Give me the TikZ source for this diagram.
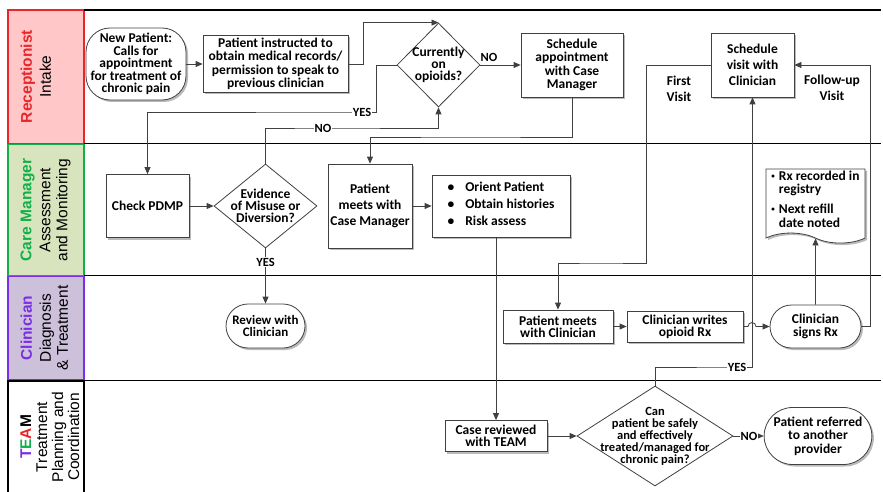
\documentclass[tikz,border=0pt]{standalone}
\usepackage{fontspec}
\setmainfont{Carlito}
\newfontfamily\lanefont{Liberation Sans}
\usetikzlibrary{arrows.meta,shapes.geometric,shapes.misc,shapes.symbols,shadows}

\definecolor{recred}{HTML}{E8262B}
\definecolor{recfill}{HTML}{FFC7C7}
\definecolor{cmgreen}{HTML}{12B04A}
\definecolor{cmfill}{HTML}{D7E4BD}
\definecolor{clinpurple}{HTML}{7A2EE6}
\definecolor{clinfill}{HTML}{CCC0DA}
\definecolor{linegray}{HTML}{404040}

\newcommand{\boxfont}{\fontsize{13.5}{13.5}\selectfont\bfseries}
\newcommand{\decfont}{\fontsize{13.5}{12}\selectfont\bfseries}
\newcommand{\lblfont}{\fontsize{12.5}{12.5}\selectfont\bfseries}
\newcommand{\bul}{\raisebox{2pt}{\scriptsize\textbullet}}

\tikzset{
  boxshadow/.style={drop shadow={shadow xshift=2pt,shadow yshift=-2pt,fill=black!45,opacity=0.6}},
  process/.style={draw=linegray,line width=0.8pt,fill=white,boxshadow,font=\boxfont,align=center,inner sep=2pt},
  terminal/.style={process,rounded rectangle},
  decision/.style={diamond,draw=linegray,line width=0.8pt,fill=white,font=\decfont,align=center,inner sep=-8pt},
  flow/.style={draw=linegray,line width=0.8pt,-{Triangle[length=7pt,width=6pt]}},
  lbl/.style={fill=white,inner sep=1pt,font=\lblfont},
  lane/.style={line width=1.5pt},
  lanetitle/.style={rotate=90,anchor=north,align=center,font=\lanefont\fontsize{15.5}{17}\selectfont},
}

\begin{document}
\begin{tikzpicture}[x=1pt,y=-1pt]
  \useasboundingbox (0,0) rectangle (883,492);

  % swim lanes
  \draw[draw=recred,fill=recfill,line width=1.2pt] (8,10) rectangle (84,143.5);
  \draw[draw=cmgreen,fill=cmfill,line width=1.2pt] (8,144.5) rectangle (84,275.5);
  \draw[draw=clinpurple,fill=clinfill,line width=1.2pt] (8,276.5) rectangle (84,380);
  \draw[line width=1.2pt] (8,381) rectangle (84,496);
  \foreach \y in {10,143.5,275.5,380.5}
    \draw[lane] (84,\y) -- (881,\y);

  \node[lanetitle] (trec) at (17,76.5) {{\bfseries\color{recred}Receptionist}\\[2pt]Intake};
  \node[lanetitle] (tcm) at (17,210) {{\bfseries\color{cmgreen}Care Manager}\\[2pt]Assessment\\and Monitoring};
  \node[lanetitle] (tclin) at (17,328) {{\bfseries\color{clinpurple}Clinician}\\[2pt]Diagnosis\\\& Treatment};
  \node[lanetitle,font=\lanefont\fontsize{15.5}{16}\selectfont] (tteam) at (17,437)
    {{\bfseries\color{clinpurple}T\color{cmgreen}E\color{recred}A\color{black}M}\\Treatment\\Planning and\\Coordination};

  % intake
  \node[process,rounded corners=24pt,minimum width=100pt,minimum height=72pt,
        font=\fontsize{13.5}{12.5}\selectfont\bfseries] (newpt) at (136,64)
    {New Patient:\\Calls for\\appointment\\for treatment of\\chronic pain};
  \node[process,minimum width=145pt,minimum height=57pt] (instr) at (275.5,64)
    {Patient instructed to\\obtain medical records/\\permission to speak to\\previous clinician};
  \node[decision,minimum width=83pt,minimum height=84pt] (opioid) at (438.5,65) {Currently\\on\\opioids?};
  \node[process,minimum width=102pt,minimum height=64pt] (schapt) at (572,65) {Schedule\\appointment\\with Case\\Manager};
  \node[process,minimum width=83pt,minimum height=64pt,font=\fontsize{13.5}{16}\selectfont\bfseries]
    (schvis) at (752.5,65) {Schedule\\visit with\\Clinician};

  % assessment
  \node[process,minimum width=83pt,minimum height=63pt] (pdmp) at (147.5,206) {Check PDMP};
  \node[decision,minimum width=103pt,minimum height=84pt] (misuse) at (265.5,206) {Evidence\\of Misuse or\\Diversion?};
  \node[process,minimum width=84pt,minimum height=84pt,font=\fontsize{13.5}{16}\selectfont\bfseries]
    (cmmeet) at (370,206) {Patient\\meets with\\Case Manager};
  \node[process,minimum width=138pt,minimum height=62pt] (orient) at (501,206)
    {\begin{tabular}{@{}l@{\hspace{11pt}}l@{}}
       \textbullet & Orient Patient\\[3.5pt]
       \textbullet & Obtain histories\\[3.5pt]
       \textbullet & Risk assess
     \end{tabular}};
  \node[process,shape=tape,tape bend top=none,tape bend bottom=out and in,tape bend height=10pt,
        minimum width=99pt,minimum height=74pt] (rxdoc) at (815.5,201)
    {\begin{tabular}{@{}l@{\hspace{4pt}}l@{}}
       \bul & Rx recorded in\\
            & registry\\[6pt]
       \bul & Next refill\\
            & date noted
     \end{tabular}};

  % treatment
  \node[terminal,minimum width=83pt,minimum height=44pt,font=\fontsize{13}{12}\selectfont\bfseries]
    (review) at (265.5,326) {Review with\\Clinician};
  \node[process,minimum width=110pt,minimum height=33pt,font=\fontsize{13.5}{12}\selectfont\bfseries]
    (ptclin) at (558,326.5) {Patient meets\\with Clinician};
  \node[process,minimum width=116pt,minimum height=31pt,font=\fontsize{13.5}{12}\selectfont\bfseries]
    (writes) at (685,326.5) {Clinician writes\\opioid Rx};
  \node[terminal,minimum width=95pt,minimum height=43pt,font=\fontsize{13.5}{12.5}\selectfont\bfseries]
    (signs) at (815.5,326.5) {Clinician\\signs Rx};

  % team
  \node[process,minimum width=102pt,minimum height=31pt,font=\fontsize{13.5}{12}\selectfont\bfseries]
    (casetm) at (496,436) {Case reviewed\\with TEAM};
  \node[decision,inner sep=-20pt,minimum width=156pt,minimum height=100pt,font=\fontsize{12.5}{12}\selectfont\bfseries]
    (canpt) at (655,436) {Can\\patient be safely\\and effectively\\treated/managed for\\chronic pain?};
  \node[terminal,minimum width=100pt,minimum height=57pt] (referred) at (818,436)
    {Patient referred\\to another\\provider};

  % bend points
  \coordinate (yesrow) at (362,112);
  \coordinate (norow) at (323,128);
  \coordinate (cmrow) at (470,137);
  \coordinate (firstrow) at (600,263);
  \coordinate (yesrow2) at (737,367);
  \coordinate (hop) at (748,0);

  % connectors
  \draw[flow] (newpt) -- (instr);
  \draw[flow] (instr.east) -- ++(15,0) |- (opioid.north);
  \draw[flow] (opioid) -- (schapt);
  \draw[flow] (opioid.west) -- ++(-20,0) |- (yesrow) -| (pdmp.north);
  \draw[flow] (misuse.north) |- (norow) -| (opioid.south);
  \draw[flow] (schapt.south) |- (cmrow) -| (cmmeet.north);
  \draw[flow] (pdmp) -- (misuse);
  \draw[flow] (misuse) -- (review);
  \draw[flow] (cmmeet) -- (orient);
  \draw[flow] (casetm.north |- orient.south) -- (casetm.north);
  \draw[flow] (schvis.west) -- ++(-64,0) |- (firstrow) -| (ptclin.north);
  \draw[flow] (ptclin) -- (writes);
  \draw[flow] (writes.east) -- (writes.east -| hop) arc[start angle=180,end angle=0,radius=4pt] -- (signs.west);
  \draw[flow] (signs) -- (rxdoc);
  \draw[flow] (signs.east) -- ++(9,0) |- (schvis.east);
  \draw[flow] (canpt.north) |- (yesrow2) -| (schvis.south);
  \draw[flow] (casetm) -- (canpt);
  \draw[flow] (canpt) -- (referred);

  % labels
  \node[lbl] (tyes1) at (yesrow) {YES};
  \node[lbl] (tno1) at (norow) {NO};
  \node[lbl,fill=none] (tno2) at (489,57) {NO};
  \node[lbl] (tyes2) at (265.5,262) {YES};
  \node[lbl] (tyes3) at (yesrow2) {YES};
  \node[lbl] (tno3) at (749,436) {NO};
  \node[font=\fontsize{13.5}{16}\selectfont\bfseries,align=center] (tfirst) at (679,89) {First\\Visit};
  \node[font=\fontsize{13.5}{16}\selectfont\bfseries,align=center] (tfollow) at (832,88) {Follow-up\\Visit};
\end{tikzpicture}
\end{document}
